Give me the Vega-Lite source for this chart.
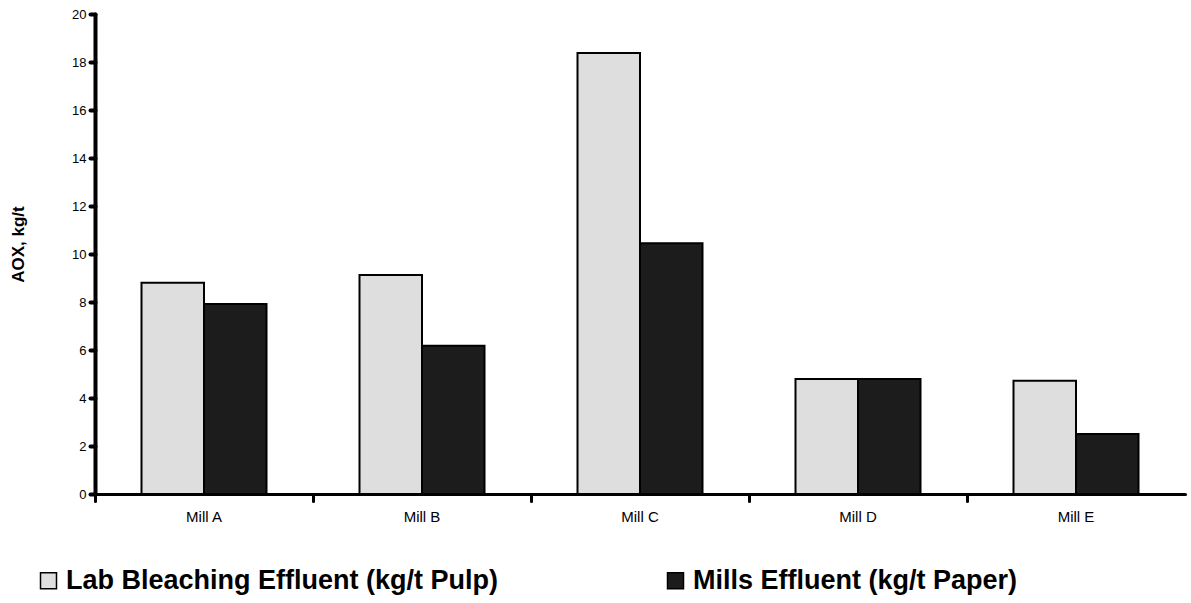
{
  "$schema": "https://vega.github.io/schema/vega-lite/v6.json",
  "autosize": "none",
  "width": 1090,
  "height": 480,
  "padding": {"left": 95, "top": 14, "right": 6, "bottom": 109},
  "background": "white",
  "config": {
    "font": "Liberation Sans",
    "view": {"stroke": null}
  },
  "data": {
    "values": [
      {"mill": "Mill A", "series": "Lab Bleaching Effluent (kg/t Pulp)", "aox": 8.8},
      {"mill": "Mill A", "series": "Mills Effluent (kg/t Paper)", "aox": 7.92},
      {"mill": "Mill B", "series": "Lab Bleaching Effluent (kg/t Pulp)", "aox": 9.13},
      {"mill": "Mill B", "series": "Mills Effluent (kg/t Paper)", "aox": 6.18},
      {"mill": "Mill C", "series": "Lab Bleaching Effluent (kg/t Pulp)", "aox": 18.37},
      {"mill": "Mill C", "series": "Mills Effluent (kg/t Paper)", "aox": 10.45},
      {"mill": "Mill D", "series": "Lab Bleaching Effluent (kg/t Pulp)", "aox": 4.79},
      {"mill": "Mill D", "series": "Mills Effluent (kg/t Paper)", "aox": 4.79},
      {"mill": "Mill E", "series": "Lab Bleaching Effluent (kg/t Pulp)", "aox": 4.72},
      {"mill": "Mill E", "series": "Mills Effluent (kg/t Paper)", "aox": 2.5}
    ]
  },
  "mark": {"type": "bar", "stroke": "black", "strokeWidth": 2},
  "encoding": {
    "x": {
      "field": "mill",
      "type": "nominal",
      "scale": {"paddingInner": 0, "paddingOuter": 0},
      "axis": {
        "title": null,
        "labelAngle": 0,
        "labelFont": "Liberation Sans",
        "labelFontSize": 15,
        "labelColor": "black",
        "labelPadding": 8,
        "bandPosition": 0,
        "tickSize": 7,
        "tickWidth": 3,
        "tickColor": "black",
        "tickCap": "round",
        "domainWidth": 3,
        "domainColor": "black",
        "domainCap": "round",
        "grid": false
      }
    },
    "xOffset": {
      "field": "series",
      "type": "nominal",
      "scale": {"paddingInner": 0, "paddingOuter": 0.744}
    },
    "y": {
      "field": "aox",
      "type": "quantitative",
      "scale": {"domain": [0, 20], "nice": false},
      "axis": {
        "title": "AOX, kg/t",
        "titleFont": "Liberation Sans",
        "titleFontSize": 17,
        "titleFontWeight": "bold",
        "titleColor": "black",
        "titleX": -77,
        "titleY": 230,
        "titleBaseline": "middle",
        "titleAlign": "center",
        "values": [0, 2, 4, 6, 8, 10, 12, 14, 16, 18, 20],
        "labelFont": "Liberation Sans",
        "labelFontSize": 13,
        "labelColor": "black",
        "labelPadding": 4,
        "tickSize": 5,
        "tickWidth": 4,
        "tickColor": "black",
        "tickCap": "round",
        "domainWidth": 4,
        "domainColor": "black",
        "domainCap": "round",
        "grid": false
      }
    },
    "color": {
      "field": "series",
      "type": "nominal",
      "scale": {
        "domain": ["Lab Bleaching Effluent (kg/t Pulp)", "Mills Effluent (kg/t Paper)"],
        "range": ["#dedede", "#1c1c1c"]
      },
      "legend": {
        "title": null,
        "orient": "none",
        "direction": "horizontal",
        "legendX": -60,
        "legendY": 553,
        "labelFont": "Liberation Sans",
        "labelFontSize": 27,
        "labelFontWeight": "bold",
        "labelColor": "black",
        "labelLimit": 0,
        "labelOffset": 4,
        "symbolType": "square",
        "symbolSize": 256,
        "symbolStrokeColor": "black",
        "symbolStrokeWidth": 1.5,
        "columnPadding": 164
      }
    }
  }
}
